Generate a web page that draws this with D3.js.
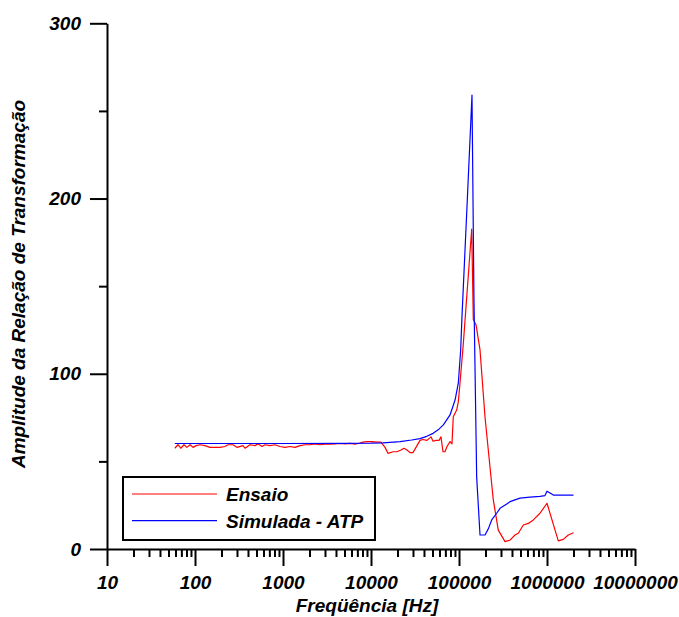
<!DOCTYPE html>
<html>
<head>
<meta charset="utf-8">
<script src="https://cdn.jsdelivr.net/npm/d3@7"></script>
<style>
  body { margin: 0; background: #fff; }
  svg text { font-family: "Liberation Sans", Arial, sans-serif; font-weight: bold; font-style: italic; }
</style>
</head>
<body>
<svg id="chart" width="679" height="617"></svg>
<script>
// Ensaio (measured) - frequency in Hz, amplitude
var ensaioFreq = [59, 64, 69, 75, 81, 88, 95, 103, 114, 130, 148, 169, 192, 219, 237, 270, 300, 351, 370, 422,
  481, 520, 577, 624, 711, 811, 924, 1054, 1201, 1369, 1561, 1779, 2028, 2312, 2635, 3004, 3424, 3903, 4449, 5071,
  5781, 6590, 7512, 8113, 9010, 10260, 11700, 13000, 14430, 15600, 17780, 19730, 21920, 23700, 25640, 27730, 29990,
  33320, 36040, 38980, 43290, 48080, 50700, 54800, 59300, 62400, 65800, 69300, 73100, 79100, 83200, 86100, 94100,
  98200, 102600, 111900, 139400, 145400, 156000, 173300, 197400, 215200, 245300, 279600, 333400, 380000, 432800,
  472000, 538000, 613400, 698700, 832000, 1000000, 1344000, 1532000, 1746000, 2000000];
var ensaioAmp = [57.5, 59.5, 57.5, 59.5, 58, 59.5, 58, 59, 59.5, 59, 58, 58, 58, 58.5, 59.5, 59.5, 58, 59, 57.5, 59.5,
  59, 60, 58.5, 59.5, 59, 59.5, 58.5, 58, 58.5, 58, 59, 59.5, 59.5, 60, 59.5, 59.8, 59.8, 60, 60.2, 60,
  60.3, 59.8, 60.5, 61, 61.3, 61.3, 61, 61, 58, 54.6, 55.5, 55.5, 56.5, 57.5, 56.5, 55, 55,
  59, 62, 62.5, 62, 64, 61.5, 62, 62, 64, 55.5, 55.5, 58.5, 61.3, 60, 75.5, 79.3,
  84, 94.6, 117, 182.5, 131, 128, 113.6, 75.5, 56.5, 28, 10.8, 4.2, 5.1, 8,
  9, 13.7, 14.6, 16.6, 20.4, 26.1, 4.6, 5.5, 8, 9.3];

// Simulada - ATP
var simFreq = [59, 300, 1000, 5000, 10000, 13700, 21400, 29000, 36040, 43000, 50800, 58000, 66400, 79100, 90200,
  98200, 104500, 108100, 124200, 140500, 148000, 158800, 173300, 197400, 215200, 235300, 268000, 292500, 348600,
  380000, 432800, 493600, 641300, 832000, 948000, 1000000, 1082000, 1180000, 1500000, 2000000];
var simAmp = [60.2, 60.2, 60.2, 60.3, 60.4, 60.6, 61.3, 62.2, 63, 64.3, 66, 68, 70.8, 76.5, 85,
  94.6, 113.6, 132.6, 199, 259, 142, 41, 8, 8, 11.5, 16.6, 20.4, 23.2, 25.7,
  27, 28, 29, 29.6, 30, 30.5, 33, 32, 30.8, 30.8, 30.8];

var yTickValues = [0, 50, 100, 150, 200, 250, 300];
var yLabels = [0, 100, 200, 300];
var xDecades = [10, 100, 1000, 10000, 100000, 1000000, 10000000];

var seriesNames = ['Ensaio', 'Simulada - ATP'];
var seriesColors = ['#ff0000', '#0000ff'];

var svg = d3.select('#chart');

var x = d3.scaleLog().domain([10, 1e7]).range([107, 635]);
var y = d3.scaleLinear().domain([0, 300]).range([549, 23.3]);

// minor ticks 2..9 of each decade, plus the decades
var xTickValues = [];
xDecades.forEach(function (d, i) {
  xTickValues.push(d);
  if (i < xDecades.length - 1) {
    for (var k = 2; k <= 9; k++) xTickValues.push(d * k);
  }
});

var xAxis = d3.axisBottom(x)
  .tickValues(xTickValues)
  .tickSize(17)
  .tickSizeOuter(0)
  .tickPadding(10)
  .tickFormat(function (d) { return xDecades.indexOf(d) >= 0 ? d3.format('d')(d) : ''; });

var yAxis = d3.axisLeft(y)
  .tickValues(yTickValues)
  .tickSize(17)
  .tickSizeOuter(0)
  .tickPadding(9)
  .tickFormat(function (d) { return yLabels.indexOf(d) >= 0 ? d : ''; });

var gx = svg.append('g').attr('transform', 'translate(0,549)').call(xAxis);
var gy = svg.append('g').attr('transform', 'translate(107,0)').call(yAxis);

gx.selectAll('.tick line')
  .filter(function (d) { return xDecades.indexOf(d) < 0; })
  .attr('y2', 8);
gy.selectAll('.tick line')
  .filter(function (d) { return yLabels.indexOf(d) < 0; })
  .attr('x2', -8);

[gx, gy].forEach(function (g) {
  g.selectAll('path, line').attr('stroke', '#000').attr('stroke-width', 2);
  g.selectAll('text').attr('font-size', 19).attr('fill', '#000')
    .style('font-family', '"Liberation Sans", Arial, sans-serif');
});

var line = d3.line()
  .x(function (d) { return x(d[0]); })
  .y(function (d) { return y(d[1]); });

var ensaio = ensaioFreq.map(function (f, i) { return [f, ensaioAmp[i]]; });
var simulada = simFreq.map(function (f, i) { return [f, simAmp[i]]; });

[ensaio, simulada].forEach(function (data, i) {
  svg.append('path')
    .datum(data)
    .attr('fill', 'none')
    .attr('stroke', seriesColors[i])
    .attr('stroke-width', 1.2)
    .attr('stroke-linejoin', 'round')
    .attr('d', line);
});

// legend
var legend = svg.append('g');
legend.append('rect')
  .attr('x', 123).attr('y', 477)
  .attr('width', 252).attr('height', 63)
  .attr('fill', '#fff')
  .attr('stroke', '#000')
  .attr('stroke-width', 2);

seriesNames.forEach(function (name, i) {
  var ly = 494 + i * 26.7;
  legend.append('line')
    .attr('x1', 132).attr('x2', 217)
    .attr('y1', ly).attr('y2', ly)
    .attr('stroke', seriesColors[i])
    .attr('stroke-width', 1.2);
  legend.append('text')
    .attr('x', 226).attr('y', ly)
    .attr('dy', '0.36em')
    .attr('font-size', 19)
    .text(name);
});

// axis titles
svg.append('text')
  .attr('x', 367).attr('y', 612)
  .attr('text-anchor', 'middle')
  .attr('font-size', 19)
  .text('Freqüência [Hz]');

svg.append('text')
  .attr('transform', 'translate(25,284) rotate(-90)')
  .attr('text-anchor', 'middle')
  .attr('font-size', 19)
  .text('Amplitude da Relação de Transformação');
</script>
</body>
</html>
